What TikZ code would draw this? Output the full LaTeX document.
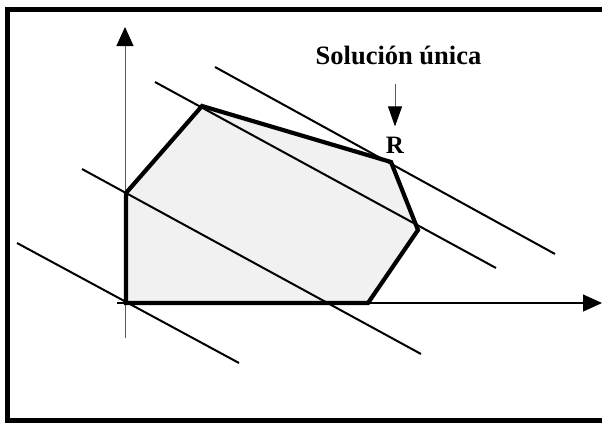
\documentclass[tikz,border=0pt]{standalone}
\usepackage{fontspec}
\setmainfont{Liberation Serif}
\usetikzlibrary{arrows.meta,positioning}
\definecolor{RegionGray}{RGB}{241, 241, 241}
\definecolor{AxisGray}{RGB}{90, 90, 90}

\begin{document}
\begin{tikzpicture}[x=1pt, y=-1pt,
    axis/.style={line width=1.2pt, -{Triangle[length=19pt, width=17pt, color=black]}},
    levelline/.style={line width=2pt},
    region/.style={line width=4.2pt, fill=RegionGray, line join=miter},
    label/.style={inner sep=0pt, font=\bfseries}]
    \useasboundingbox (0,0) rectangle (602,423);
    % Frame (the right side falls outside the picture)
    \draw[line width=5pt] (602,9.5) -- (7.5,9.5) -- (7.5,420.5) -- (602,420.5);

    % Vertices of the feasible region
    \coordinate (O) at (126,303);
    \coordinate (A) at (126,193);
    \coordinate (B) at (202,106);
    \coordinate (R) at (391,162);
    \coordinate (C) at (418,230);
    \coordinate (D) at (368,303);
    \fill[RegionGray] (O) -- (A) -- (B) -- (R) -- (C) -- (D) -- cycle;

    % Axes
    \draw[axis, AxisGray, line width=1pt] (125,338) -- (125,27);
    \draw[axis] (117,303) -- (602,303);

    % Level lines of the objective, all parallel
    \foreach \xa/\ya/\xb/\yb in {17/243/239/363, 82/169/421/354, 155/82/496/268, 215/67/555/254} {
      \draw[levelline] (\xa,\ya) -- (\xb,\yb);
    }

    % Feasible region
    \draw[region, fill=none] (O) -- (A) -- (B) -- (R) -- (C) -- (D) -- cycle;

    % Labels
    \node[label, font=\bfseries\fontsize{26.5}{30}\selectfont, anchor=base] (sol) at (398.5,64) {Solución única};
    \node[label, font=\bfseries\fontsize{25}{28}\selectfont, anchor=base] (rlabel) at (395,153) {R};
    \draw[AxisGray, line width=1pt, -{Triangle[length=20pt, width=14pt, color=black]}, shorten <=19pt, shorten >=10pt]
      (rlabel.north |- sol.south) -- (rlabel.north);
\end{tikzpicture}
\end{document}
